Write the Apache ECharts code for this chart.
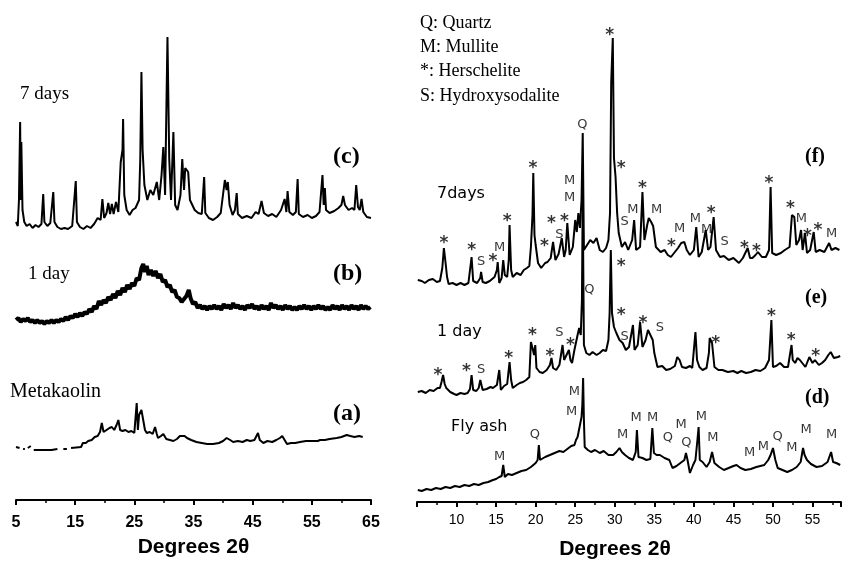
<!DOCTYPE html>
<html>
<head>
<meta charset="utf-8">
<script src="https://cdn.jsdelivr.net/npm/echarts@6/dist/echarts.min.js"></script>
<style>
  html, body { margin: 0; padding: 0; background: #fff; }
  #chart { width: 842px; height: 565px; }
</style>
</head>
<body>
<div id="chart"></div>
<script>
// left panel: [2theta, intensity (a.u., stacked)]
var days7Left = [
  [5.0,278],[5.3,274],[5.5,300],[5.7,378],[5.8,300],[5.9,358],[6.1,290],[6.4,278],[6.8,274],[7.3,276],
  [7.8,272],[8.3,275],[8.8,273],[9.3,276],[9.6,306],[9.8,278],[10.3,274],[10.8,277],[11.3,308],[11.5,278],
  [12.0,273],[12.6,271],[13.2,272],[13.8,271],[14.5,274],[15.1,319],[15.3,278],[15.8,273],[16.4,271],[17.0,274],
  [17.6,272],[18.2,276],[18.8,282],[19.3,280],[19.6,301],[19.9,282],[20.3,287],[20.6,297],[20.9,286],[21.2,296],
  [21.5,286],[21.9,298],[22.3,288],[22.7,338],[23.0,350],[23.1,381],[23.3,305],[23.7,290],[24.2,285],[24.7,290],
  [25.2,292],[25.8,300],[26.0,340],[26.2,428],[26.4,350],[26.7,315],[27.2,300],[27.7,310],[28.2,305],[28.8,318],
  [29.2,300],[29.6,325],[29.9,353],[30.2,305],[30.6,463],[30.9,341],[31.2,300],[31.6,368],[31.9,295],[32.3,290],
  [32.8,305],[33.1,341],[33.4,310],[33.6,332],[34.1,328],[34.4,300],[34.7,300],[35.2,290],[35.8,287],[36.4,286],
  [36.8,323],[37.0,287],[37.6,282],[38.3,280],[39.0,283],[39.6,287],[40.3,320],[40.6,310],[40.8,318],[41.1,295],
  [41.6,285],[42.0,290],[42.3,307],[42.5,286],[43.2,282],[44.0,284],[44.8,282],[45.5,288],[46.0,286],[46.5,299],
  [46.9,287],[47.6,284],[48.3,286],[49.0,283],[49.8,290],[50.4,301],[50.7,288],[50.9,309],[51.2,288],[51.8,285],
  [52.3,288],[52.6,321],[52.8,286],[53.5,283],[54.3,285],[55.0,282],[55.7,284],[56.3,288],[56.8,325],[57.0,295],
  [57.2,312],[57.4,290],[58.0,287],[58.8,289],[59.5,292],[60.0,295],[60.3,304],[60.6,295],[61.2,290],[61.8,292],
  [62.2,290],[62.5,315],[62.8,293],[63.1,290],[63.4,301],[63.7,288],[64.3,283],[65.0,282]
];
var day1Left = [
  [5.0,180],[5.4,182],[5.8,178],[6.2,181],[6.6,179],[7.0,182],[7.4,178],[7.8,180],[8.2,177],[8.6,180],
  [9.0,177],[9.4,179],[9.8,176],[10.2,179],[10.6,177],[11.0,180],[11.4,177],[11.8,180],[12.2,178],[12.6,181],
  [13.0,179],[13.4,183],[13.8,180],[14.2,184],[14.6,182],[15.0,186],[15.4,183],[15.8,187],[16.2,184],[16.6,188],
  [17.0,186],[17.4,191],[17.8,188],[18.2,194],[18.6,191],[19.0,199],[19.4,195],[19.8,200],[20.2,197],[20.6,203],
  [21.0,200],[21.4,206],[21.8,202],[22.2,209],[22.6,205],[23.0,212],[23.4,208],[23.8,215],[24.2,211],[24.6,217],
  [25.0,214],[25.4,222],[25.8,220],[26.2,232],[26.5,236],[26.8,228],[27.1,234],[27.4,225],[27.8,230],[28.2,224],
  [28.6,229],[29.0,222],[29.4,226],[29.8,218],[30.2,220],[30.6,213],[31.0,215],[31.4,208],[31.8,210],[32.2,203],
  [32.6,202],[33.0,198],[33.4,201],[33.8,204],[34.2,210],[34.5,202],[34.9,196],[35.3,198],[35.7,192],[36.1,195],
  [36.5,191],[36.9,194],[37.3,190],[37.7,194],[38.1,191],[38.5,195],[38.9,191],[39.3,194],[39.7,190],[40.1,196],
  [40.5,192],[40.9,195],[41.3,191],[41.7,197],[42.1,192],[42.5,195],[42.9,191],[43.3,194],[43.7,190],[44.1,195],
  [44.5,192],[44.9,196],[45.3,191],[45.7,194],[46.1,190],[46.5,195],[46.9,191],[47.3,194],[47.7,190],[48.1,197],
  [48.5,192],[48.9,195],[49.3,191],[49.7,194],[50.1,190],[50.5,195],[50.9,191],[51.3,194],[51.7,190],[52.1,193],
  [52.5,190],[52.9,194],[53.3,191],[53.7,195],[54.1,191],[54.5,194],[54.9,190],[55.3,194],[55.7,191],[56.1,195],
  [56.5,191],[56.9,194],[57.3,190],[57.7,193],[58.1,190],[58.5,195],[58.9,191],[59.3,194],[59.7,190],[60.1,195],
  [60.5,191],[60.9,194],[61.3,190],[61.7,195],[62.1,191],[62.5,194],[62.9,190],[63.3,195],[63.7,191],[64.1,194],
  [64.5,191],[64.9,193]
];
var metakaolin = [
  [5.0,53],[5.6,52],[6.0,'-'],[6.2,51],[6.5,51],[6.8,'-'],[7.0,52],[7.5,54],[7.8,'-'],[8.0,50],[9.0,50],[10.0,50],
  [11.0,50],[12.0,51],[12.5,'-'],[13.0,51],[13.6,51],[14.0,'-'],[14.3,52],[16.0,53],[16.3,57],[16.8,57],[17.2,59],
  [17.8,60],[18.3,63],[18.8,64],[19.2,68],[19.5,77],[19.8,68],[20.3,70],[20.8,72],[21.2,73],[21.6,70],[22.0,75],
  [22.3,80],[22.6,70],[23.0,69],[23.5,70],[24.0,68],[24.5,69],[25.0,67],[25.2,65],[25.4,97],[25.6,70],[25.8,85],
  [26.2,90],[26.5,80],[26.8,70],[27.1,67],[27.6,68],[28.1,66],[28.5,73],[28.8,66],[29.0,62],[29.5,64],[29.9,66],
  [30.4,61],[31.0,60],[31.6,59],[32.2,61],[32.7,64],[33.0,66],[33.5,64],[33.9,62],[34.6,60],[35.5,58],[36.4,57],
  [37.3,56],[38.3,56],[39.3,57],[40.0,59],[40.6,62],[41.2,60],[41.7,58],[42.5,59],[43.3,58],[44.0,60],[44.6,59],
  [45.3,60],[45.9,67],[46.2,60],[46.8,57],[47.5,59],[48.3,58],[49.0,60],[49.6,62],[50.0,64],[50.4,60],[50.8,56],
  [51.5,57],[52.2,57],[53.0,58],[54.0,59],[55.0,59],[56.0,59],[56.4,60],[57.2,60],[58.0,61],[59.2,62],[60.0,63],
  [60.9,65],[61.5,64],[62.2,63],[63.0,64],[63.6,63]
];

// right panel
var days7Right = [
  [5.1,222],[5.6,221],[6.0,219],[6.5,222],[7.0,223],[7.5,220],[7.9,221],[8.2,234],[8.4,254],[8.6,240],[8.8,225],
  [9.0,218],[9.5,219],[10.0,217],[10.5,219],[11.0,217],[11.5,219],[11.75,219],[11.9,245],[12.1,221],[12.6,219],
  [13.0,224],[13.1,230],[13.3,220],[13.7,219],[14.2,221],[14.8,225],[15.1,232],[15.2,240],[15.4,219],[15.7,224],
  [15.9,242],[16.1,227],[16.4,225],[16.6,242],[16.7,277],[16.9,232],[17.1,225],[17.6,229],[18.1,227],[18.5,232],
  [18.9,234],[19.2,236],[19.4,255],[19.6,287],[19.7,329],[19.85,267],[20.0,257],[20.3,239],[20.7,234],[21.2,239],
  [21.5,240],[21.9,244],[22.2,260],[22.5,242],[22.9,248],[23.3,264],[23.6,245],[23.8,252],[24.0,279],[24.3,247],
  [24.7,255],[25.0,282],[25.2,270],[25.4,289],[25.6,274],[25.8,302],[25.95,369],[26.1,252],[26.5,257],[26.9,262],
  [27.3,259],[27.7,264],[28.1,252],[28.5,250],[28.9,254],[29.2,262],[29.4,289],[29.55,419],[29.75,464],[29.9,344],
  [30.1,325],[30.3,289],[30.5,269],[30.9,255],[31.3,260],[31.7,252],[32.2,262],[32.45,282],[32.7,252],[33.2,255],
  [33.5,310],[33.75,262],[34.1,277],[34.3,284],[34.6,280],[34.85,276],[35.2,255],[35.8,250],[36.3,252],[36.7,247],
  [37.1,245],[37.6,250],[38.0,254],[38.4,259],[38.8,260],[39.1,252],[39.5,247],[40.0,252],[40.3,275],[40.6,245],
  [41.0,250],[41.5,272],[41.8,252],[42.1,255],[42.5,285],[42.8,252],[43.3,245],[43.8,246],[44.4,242],[45.0,244],
  [45.7,239],[46.2,244],[46.8,254],[47.1,244],[47.4,244],[47.8,247],[48.1,250],[48.6,245],[49.1,245],[49.5,252],
  [49.7,315],[49.9,249],[50.4,247],[51.0,249],[51.5,252],[52.1,255],[52.4,287],[52.7,285],[52.95,257],[53.3,262],
  [53.55,272],[53.75,252],[54.05,269],[54.3,249],[54.7,252],[55.15,270],[55.4,250],[55.9,252],[56.5,250],[57.1,259],
  [57.4,252],[57.9,254],[58.4,252]
];
var day1Right = [
  [5.1,110],[5.6,111],[6.1,109],[6.6,112],[7.1,111],[7.6,114],[7.9,114],[8.1,120],[8.3,127],[8.5,118],[8.7,114],
  [9.2,110],[9.7,108],[10.0,107],[10.5,109],[11.0,108],[11.4,109],[11.7,113],[11.9,127],[12.1,112],[12.5,111],
  [12.8,114],[13.0,122],[13.3,112],[13.8,113],[14.3,115],[14.6,114],[15.1,117],[15.4,132],[15.6,112],[16.0,116],
  [16.4,118],[16.7,140],[16.9,122],[17.1,114],[17.6,117],[18.0,119],[18.4,120],[18.8,122],[19.2,125],[19.4,160],
  [19.6,154],[19.8,147],[19.95,157],[20.1,134],[20.5,130],[20.9,129],[21.4,132],[21.8,137],[22.0,144],[22.2,134],
  [22.6,132],[23.0,137],[23.2,147],[23.4,157],[23.6,142],[23.8,144],[24.2,152],[24.4,142],[24.6,139],[24.9,152],
  [25.1,154],[25.3,167],[25.5,174],[25.7,167],[25.85,202],[25.95,302],[26.1,157],[26.4,149],[26.8,147],[27.2,150],
  [27.7,147],[28.1,149],[28.5,152],[28.9,151],[29.2,162],[29.35,189],[29.5,252],[29.65,189],[29.9,175],[30.2,169],
  [30.6,162],[31.0,159],[31.4,152],[31.8,155],[32.3,177],[32.5,152],[32.9,157],[33.2,180],[33.5,155],[33.9,162],
  [34.2,172],[34.5,167],[34.8,162],[35.0,149],[35.4,135],[36.0,136],[36.5,132],[37.0,133],[37.6,136],[37.9,145],
  [38.2,142],[38.5,135],[39.0,134],[39.5,136],[39.8,134],[40.0,152],[40.2,170],[40.4,142],[40.7,135],[41.1,132],
  [41.6,134],[41.9,149],[42.0,164],[42.3,159],[42.6,135],[43.1,132],[43.6,132],[44.3,130],[45.0,131],[45.5,129],
  [46.0,131],[46.6,129],[47.2,130],[47.8,132],[48.4,131],[49.0,134],[49.5,142],[49.8,182],[50.0,135],[50.4,136],
  [50.9,139],[51.4,135],[51.9,135],[52.2,150],[52.35,157],[52.5,142],[52.8,139],[53.1,144],[53.4,142],[53.8,138],
  [54.1,135],[54.6,145],[55.0,139],[55.3,142],[55.8,137],[56.2,139],[56.6,142],[57.0,147],[57.3,150],[57.7,144],
  [58.2,145],[58.5,146]
];
var flyAsh = [
  [5.1,12],[5.6,11],[6.2,13],[6.8,12],[7.4,14],[8.0,13],[8.6,15],[9.2,14],[9.8,16],[10.4,15],[11.0,17],[11.6,16],
  [12.2,18],[12.8,17],[13.4,19],[14.0,20],[14.6,22],[15.0,23],[15.4,25],[15.7,26],[15.9,37],[16.1,25],[16.5,28],
  [17.0,27],[17.6,29],[18.2,31],[18.8,32],[19.4,35],[20.0,39],[20.25,42],[20.4,57],[20.55,42],[20.8,44],[21.2,45],
  [21.8,47],[22.4,49],[23.0,51],[23.5,50],[24.0,53],[24.5,56],[24.9,57],[25.1,62],[25.3,65],[25.6,77],[25.8,85],
  [25.9,97],[26.0,124],[26.1,82],[26.2,55],[26.6,52],[27.0,50],[27.5,52],[28.1,49],[28.6,51],[29.2,47],[29.8,47],
  [30.2,50],[30.6,54],[30.9,50],[31.3,47],[31.8,44],[32.3,42],[32.65,50],[32.8,72],[33.0,45],[33.5,44],[34.0,42],
  [34.5,43],[34.75,74],[34.95,49],[35.3,47],[35.7,47],[36.3,44],[36.9,42],[37.3,34],[37.8,36],[38.3,39],[38.8,42],
  [39.0,49],[39.2,42],[39.5,29],[39.9,37],[40.2,42],[40.45,62],[40.6,75],[40.75,42],[41.1,40],[41.6,35],[42.0,40],
  [42.3,50],[42.6,39],[43.2,35],[43.8,32],[44.4,34],[45.0,36],[45.4,37],[45.9,34],[46.5,32],[47.2,33],[47.9,35],
  [48.4,36],[48.9,37],[49.4,42],[49.7,47],[50.0,54],[50.3,42],[50.6,34],[51.2,32],[51.8,30],[52.4,32],[53.0,35],
  [53.5,40],[53.8,54],[54.0,47],[54.3,42],[54.8,38],[55.5,35],[56.2,36],[56.9,40],[57.35,50],[57.6,40],[58.0,39],
  [58.5,37]
];

// phase marks: [2theta, height, symbol]
var marks7 = [
  [8.4,262,'*'],[11.9,255,'*'],[13.1,240,'S'],[14.6,244,'*'],[15.45,254,'M'],[16.4,284,'*'],[19.65,337,'*'],
  [21.1,259,'*'],[22.0,282,'*'],[23.0,267,'S'],[23.65,284,'*'],[24.3,321,'M'],[24.3,304,'M'],[25.9,377,'Q'],
  [29.35,470,'*'],[30.8,337,'*'],[31.25,280,'S'],[32.3,292,'M'],[33.5,317,'*'],[35.3,292,'M'],[37.15,259,'*'],
  [38.2,273,'M'],[40.2,283,'M'],[41.6,272,'M'],[42.2,292,'*'],[43.9,260,'S'],[46.4,257,'*'],[47.9,254,'*'],
  [49.5,322,'*'],[52.2,297,'*'],[53.6,283,'M'],[54.35,269,'*'],[55.7,275,'*'],[57.4,268,'M']
];
var marks1 = [
  [7.65,130,'*'],[11.25,134,'*'],[13.1,132,'S'],[16.6,147,'*'],[19.6,170,'*'],[21.8,149,'*'],[23.0,169,'S'],
  [24.4,160,'*'],[26.8,212,'Q'],[30.8,239,'*'],[30.8,190,'*'],[31.25,165,'S'],[33.55,182,'*'],[35.7,174,'S'],
  [42.75,162,'*'],[49.8,189,'*'],[52.3,165,'*'],[55.4,149,'*']
];
var marksAsh = [
  [15.45,45,'M'],[19.9,67,'Q'],[24.9,110,'M'],[24.55,90,'M'],[31.0,67,'M'],[32.7,84,'M'],[34.8,84,'M'],
  [36.7,64,'Q'],[38.4,77,'M'],[39.05,59,'Q'],[40.95,85,'M'],[42.4,64,'M'],[47.05,49,'M'],[48.8,55,'M'],
  [50.6,65,'Q'],[52.4,54,'M'],[54.2,72,'M'],[57.4,67,'M']
];

var chart = echarts.init(document.getElementById('chart'));

function trace(data, axis, width) {
  return {
    type: 'line', data: data, xAxisIndex: axis, yAxisIndex: axis,
    symbol: 'none', connectNulls: false,
    lineStyle: { color: '#000', width: width }
  };
}
function markSeries(list) {
  return {
    type: 'scatter', xAxisIndex: 1, yAxisIndex: 1, symbolSize: 1,
    itemStyle: { color: 'rgba(0,0,0,0)' },
    data: list.map(function (m) {
      var star = m[2] === '*';
      return {
        value: [m[0], m[1]], name: m[2],
        label: star ? { fontSize: 17, fontWeight: 'bold', offset: [0, 4] } : {}
      };
    }),
    label: {
      show: true, position: 'inside', formatter: function (p) { return p.name; },
      color: '#000', fontFamily: 'DejaVu Sans', fontSize: 13
    }
  };
}

var serif = 'Liberation Serif';
function txt(x, y, s, size, bold, font) {
  return {
    type: 'text', left: x, top: y,
    style: { text: s, fill: '#000', font: (bold ? 'bold ' : '') + size + 'px "' + (font || serif) + '"' }
  };
}

chart.setOption({
  animation: false,
  backgroundColor: '#fff',
  grid: [
    { left: 16, right: 471, top: 0, bottom: 65 },
    { left: 417, right: 1, top: 0, bottom: 63 }
  ],
  xAxis: [{
    gridIndex: 0, type: 'value', min: 5, max: 65, interval: 10,
    axisLine: { lineStyle: { color: '#000', width: 2 } },
    axisTick: { length: 5, lineStyle: { color: '#000', width: 2 } },
    minorTick: { show: true, splitNumber: 2, length: 3, lineStyle: { color: '#000', width: 1.5 } },
    splitLine: { show: false },
    axisLabel: { color: '#000', fontFamily: 'Liberation Sans', fontWeight: 'bold', fontSize: 16, margin: 15 },
    name: 'Degrees 2θ', nameLocation: 'middle', nameGap: 37,
    nameTextStyle: { color: '#000', fontFamily: 'Liberation Sans', fontWeight: 'bold', fontSize: 21 }
  }, {
    gridIndex: 1, type: 'value', min: 5, max: 58.6, interval: 5,
    axisLine: { lineStyle: { color: '#000', width: 2 } },
    axisTick: { length: 5, lineStyle: { color: '#000', width: 2 } },
    minorTick: { show: true, splitNumber: 2, length: 3, lineStyle: { color: '#000', width: 1.5 } },
    splitLine: { show: false },
    axisLabel: {
      color: '#000', fontFamily: 'Liberation Sans', fontSize: 14, margin: 11, showMaxLabel: false,
      formatter: function (v) { return v === 5 ? '' : v; }
    },
    name: 'Degrees 2θ', nameLocation: 'middle', nameGap: 37,
    nameTextStyle: { color: '#000', fontFamily: 'Liberation Sans', fontWeight: 'bold', fontSize: 21, padding: [0, 28, 0, 0] }
  }],
  yAxis: [
    { gridIndex: 0, type: 'value', min: 0, max: 500, show: false },
    { gridIndex: 1, type: 'value', min: 0, max: 502, show: false }
  ],
  series: [
    trace(days7Left, 0, 2),
    trace(day1Left, 0, 4),
    trace(metakaolin, 0, 2),
    trace(days7Right, 1, 2),
    trace(day1Right, 1, 2),
    trace(flyAsh, 1, 2),
    markSeries(marks7),
    markSeries(marks1),
    markSeries(marksAsh)
  ],
  graphic: [
    txt(20, 85, '7 days', 19),
    txt(333, 145, '(c)', 24, true),
    txt(28, 265, '1 day', 19),
    txt(333, 262, '(b)', 24, true),
    txt(10, 382, 'Metakaolin', 20),
    txt(333, 402, '(a)', 24, true),
    txt(420, 14, 'Q: Quartz', 18),
    txt(420, 38, 'M: Mullite', 18),
    txt(420, 62, '*: Herschelite', 18),
    txt(420, 87, 'S: Hydroxysodalite', 18),
    txt(437, 186, '7days', 16, false, 'DejaVu Sans'),
    txt(437, 324, '1 day', 16, false, 'DejaVu Sans'),
    txt(451, 419, 'Fly ash', 16, false, 'DejaVu Sans'),
    txt(805, 147, '(f)', 20, true),
    txt(805, 288, '(e)', 20, true),
    txt(805, 388, '(d)', 20, true)
  ]
});
</script>
</body>
</html>
